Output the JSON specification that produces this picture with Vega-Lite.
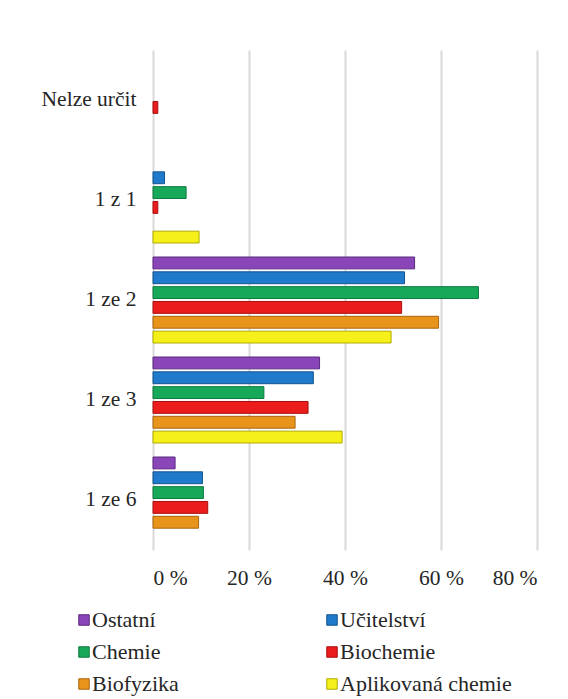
{
  "$schema": "https://vega.github.io/schema/vega-lite/v6.json",
  "width": 384,
  "height": 500,
  "autosize": "none",
  "padding": {"left": 153, "top": 50, "right": 31, "bottom": 149},
  "background": "white",
  "data": {
    "values": [
      {"kategorie": "Nelze určit", "obor": "Biochemie", "podil": 1.0},
      {"kategorie": "1 z 1", "obor": "Učitelství", "podil": 2.4},
      {"kategorie": "1 z 1", "obor": "Chemie", "podil": 6.9},
      {"kategorie": "1 z 1", "obor": "Biochemie", "podil": 1.0},
      {"kategorie": "1 z 1", "obor": "Aplikovaná chemie", "podil": 9.6},
      {"kategorie": "1 ze 2", "obor": "Ostatní", "podil": 54.5},
      {"kategorie": "1 ze 2", "obor": "Učitelství", "podil": 52.4},
      {"kategorie": "1 ze 2", "obor": "Chemie", "podil": 67.8},
      {"kategorie": "1 ze 2", "obor": "Biochemie", "podil": 51.8},
      {"kategorie": "1 ze 2", "obor": "Biofyzika", "podil": 59.5},
      {"kategorie": "1 ze 2", "obor": "Aplikovaná chemie", "podil": 49.6},
      {"kategorie": "1 ze 3", "obor": "Ostatní", "podil": 34.7},
      {"kategorie": "1 ze 3", "obor": "Učitelství", "podil": 33.4},
      {"kategorie": "1 ze 3", "obor": "Chemie", "podil": 23.1},
      {"kategorie": "1 ze 3", "obor": "Biochemie", "podil": 32.3},
      {"kategorie": "1 ze 3", "obor": "Biofyzika", "podil": 29.6},
      {"kategorie": "1 ze 3", "obor": "Aplikovaná chemie", "podil": 39.4},
      {"kategorie": "1 ze 6", "obor": "Ostatní", "podil": 4.6},
      {"kategorie": "1 ze 6", "obor": "Učitelství", "podil": 10.3},
      {"kategorie": "1 ze 6", "obor": "Chemie", "podil": 10.5},
      {"kategorie": "1 ze 6", "obor": "Biochemie", "podil": 11.4},
      {"kategorie": "1 ze 6", "obor": "Biofyzika", "podil": 9.5}
    ]
  },
  "mark": {"type": "bar", "strokeWidth": 1},
  "encoding": {
    "y": {
      "field": "kategorie",
      "type": "nominal",
      "sort": ["Nelze určit", "1 z 1", "1 ze 2", "1 ze 3", "1 ze 6"],
      "scale": {"domain": ["Nelze určit", "1 z 1", "1 ze 2", "1 ze 3", "1 ze 6"], "paddingInner": 0.14, "paddingOuter": 0.07},
      "axis": {"title": null, "domain": false, "ticks": false, "labelPadding": 17, "labelFont": "Liberation Serif", "labelFontSize": 21.5, "labelColor": "#262626"}
    },
    "yOffset": {
      "field": "obor",
      "type": "nominal",
      "scale": {"domain": ["Ostatní", "Učitelství", "Chemie", "Biochemie", "Biofyzika", "Aplikovaná chemie"], "paddingInner": 0.2, "paddingOuter": 0}
    },
    "x": {
      "field": "podil",
      "type": "quantitative",
      "scale": {"domain": [0, 80], "nice": false},
      "axis": {"title": null, "values": [0, 20, 40, 60, 80], "domain": false, "ticks": false, "labelPadding": 17, "labelFont": "Liberation Serif", "labelFontSize": 21.5, "labelColor": "#262626", "labelExpr": "datum.value + ' %'", "gridColor": "#d9d9d9", "gridWidth": 2}
    },
    "color": {
      "field": "obor",
      "type": "nominal",
      "scale": {"domain": ["Ostatní", "Učitelství", "Chemie", "Biochemie", "Biofyzika", "Aplikovaná chemie"], "range": ["#8a45b8", "#1f7acb", "#17a85a", "#ea1c1c", "#e8941a", "#f5f01a"]},
      "legend": {"title": null, "orient": "none", "direction": "horizontal", "legendX": -80, "legendY": 559, "columns": 2, "columnPadding": 142, "rowPadding": 10, "symbolType": "square", "symbolSize": 110, "symbolStrokeWidth": 1, "labelFont": "Liberation Serif", "labelFontSize": 22, "labelColor": "#262626", "labelOffset": -3, "labelLimit": 300}
    },
    "stroke": {
      "field": "obor",
      "type": "nominal",
      "scale": {"domain": ["Ostatní", "Učitelství", "Chemie", "Biochemie", "Biofyzika", "Aplikovaná chemie"], "range": ["#5a2a80", "#13558f", "#0e7a40", "#a81010", "#a86510", "#b0ab00"]},
      "legend": null
    }
  },
  "config": {"view": {"stroke": null}}
}
